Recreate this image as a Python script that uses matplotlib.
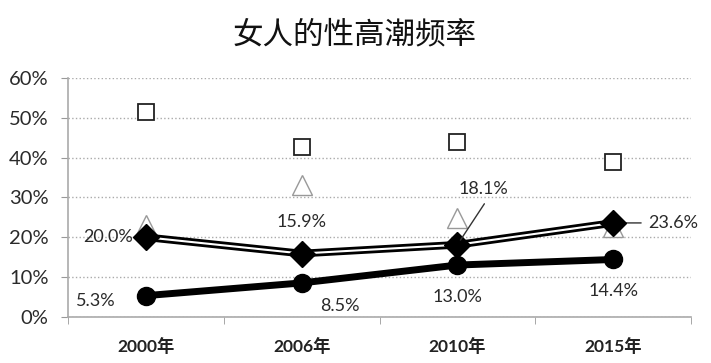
import matplotlib
matplotlib.use('Agg')
import matplotlib.pyplot as plt
from matplotlib.ticker import PercentFormatter

plt.rcParams['font.family'] = ['Lato', 'Noto Sans CJK SC', 'DejaVu Sans']

years = ['2000年', '2006年', '2010年', '2015年']
squares = [51.6, 42.6, 44.0, 38.9]
triangles = [23.0, 33.1, 24.8, 22.5]
diamonds = [20.0, 15.9, 18.1, 23.6]
circles = [5.3, 8.5, 13.0, 14.4]

x = list(range(len(years)))

fig = plt.figure(figsize=(7.11, 3.63), dpi=100)
ax = fig.add_axes([68 / 711, 1 - 316.7 / 363, 623 / 711, 238.4 / 363])

# hollow markers only
ax.plot(x, squares, linestyle='none', marker='s', markersize=12,
        markerfacecolor='white', markeredgecolor='#222222', markeredgewidth=1.3, zorder=3)
ax.plot(x, triangles, linestyle='none', marker='^', markersize=14,
        markerfacecolor='white', markeredgecolor='#999999', markeredgewidth=1.0, zorder=3)

# double line with diamonds
ax.plot(x, diamonds, color='black', linewidth=5.5, solid_capstyle='butt', zorder=4)
ax.plot(x, diamonds, color='white', linewidth=1.5, zorder=5)
ax.plot(x, diamonds, linestyle='none', marker='D', markersize=13,
        markerfacecolor='black', markeredgecolor='black', zorder=6)

# thick line with circles
ax.plot(x, circles, color='black', linewidth=5, marker='o', markersize=13, zorder=4)

lab_font = dict(fontsize=13, color='#2a2a2a', family=['Lato', 'DejaVu Sans'])

def lab(i, vals, dx, dy, ha='center', va='center'):
    ax.annotate(f'{vals[i]:.1f}%', xy=(x[i], vals[i]), xytext=(dx, dy),
                textcoords='offset pixels', ha=ha, va=va, zorder=7, **lab_font)

lab(0, diamonds, -13, 0, ha='right')
lab(1, diamonds, 0, 32)
lab(2, diamonds, 26, 56)
ax.annotate('', xy=(x[2], diamonds[2]), xytext=(27, 41), textcoords='offset pixels',
            arrowprops=dict(arrowstyle='-', color='#333333', lw=1, shrinkA=0, shrinkB=4),
            zorder=7)
lab(3, diamonds, 35, 0, ha='left')
ax.annotate('', xy=(x[3], diamonds[3]), xytext=(28, 0), textcoords='offset pixels',
            arrowprops=dict(arrowstyle='-', color='#333333', lw=1, shrinkA=0, shrinkB=9),
            zorder=3)
lab(0, circles, -50, -5)
lab(1, circles, 38, -23)
lab(2, circles, 0, -32)
lab(3, circles, 0, -32)

ax.set_xlim(-0.5, 3.5)
ax.set_ylim(0, 60)
ax.set_yticks(range(0, 61, 10))
ax.yaxis.set_major_formatter(PercentFormatter(decimals=0))
ax.set_xticks(x)
ax.set_xticklabels(years, fontweight='bold', fontsize=12.5, color='#222222')
ax.set_xticks([-0.5, 0.5, 1.5, 2.5, 3.5], minor=True)
ax.tick_params(axis='x', which='major', length=0, pad=15)
ax.tick_params(axis='x', which='minor', length=5, color='#999999', direction='out')
ax.tick_params(axis='y', length=5, color='#999999', labelsize=14.5, labelcolor='#2a2a2a', pad=9)

ax.grid(axis='y', linestyle=':', color='#aaaaaa', linewidth=1)
for s in ['top', 'right']:
    ax.spines[s].set_visible(False)
for s in ['left', 'bottom']:
    ax.spines[s].set_color('#aaaaaa')
    ax.spines[s].set_linewidth(1.2)

fig.text(355 / 711, 1 - 35 / 363, '女人的性高潮频率', ha='center', va='center',
         fontsize=22, family=['Noto Sans CJK SC'], color='#111111')

fig.savefig('out.png', dpi=100)
